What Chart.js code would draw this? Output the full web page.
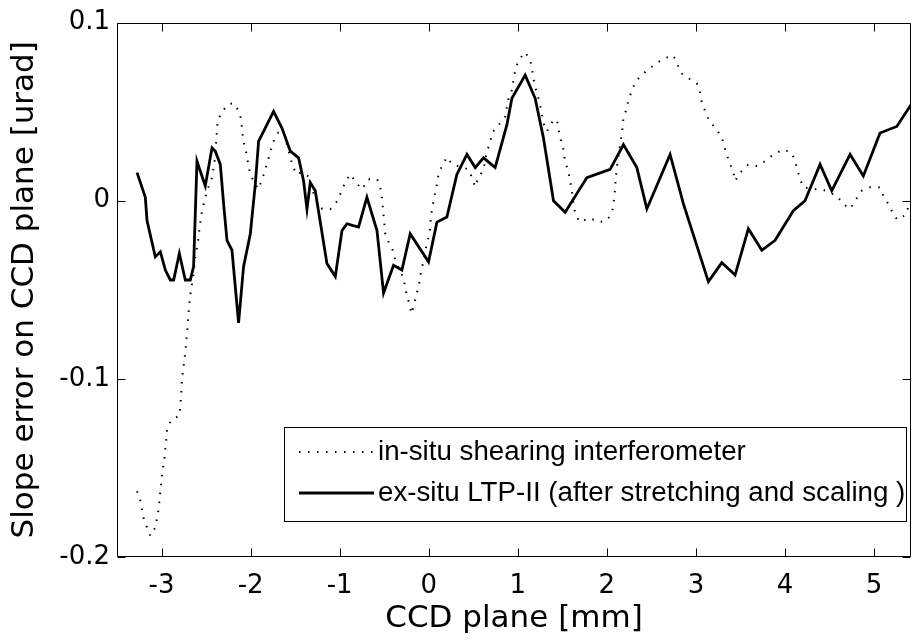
<!DOCTYPE html>
<html><head><meta charset="utf-8">
<script src="https://cdn.jsdelivr.net/npm/chart.js@4/dist/chart.umd.min.js"></script>
<style>html,body{margin:0;padding:0;background:#fff;}canvas{display:block;}</style>
</head><body>
<canvas id="c" width="912" height="641"></canvas>
<script>
const xTickValues = [-3, -2, -1, 0, 1, 2, 3, 4, 5];
const xTickLabels = ['-3', '-2', '-1', '0', '1', '2', '3', '4', '5'];
const yTickValues = [-0.2, -0.1, 0, 0.1];
const yTickLabels = ['-0.2', '-0.1', '0', '0.1'];
const xTitle = 'CCD plane [mm]';
const yTitle = 'Slope error on CCD plane [urad]';
const seriesNames = ['in-situ shearing interferometer', 'ex-situ LTP-II (after stretching and scaling )'];

const insituX = [-3.275,-3.238,-3.201,-3.163,-3.126,-3.070,-3.033,-3.013,-2.994,-2.965,
  -2.946,-2.938,-2.893,-2.797,-2.781,-2.770,-2.733,-2.707,-2.685,-2.640,
  -2.621,-2.595,-2.572,-2.545,-2.489,-2.433,-2.396,-2.385,-2.370,-2.321,
  -2.247,-2.191,-2.123,-2.104,-2.085,-2.059,-2.040,-2.003,-1.947,-1.914,
  -1.869,-1.801,-1.745,-1.689,-1.633,-1.577,-1.532,-1.487,-1.420,-1.352,
  -1.274,-1.195,-1.105,-1.027,-0.937,-0.881,-0.802,-0.746,-0.679,-0.578,
  -0.533,-0.507,-0.488,-0.451,-0.395,-0.376,-0.283,-0.264,-0.245,-0.215,
  -0.193,-0.152,-0.126,-0.103,-0.088,-0.065,-0.028,-0.002,0.017,0.022,
  0.036,0.054,0.073,0.092,0.110,0.148,0.204,0.264,0.447,0.485,
  0.522,0.559,0.615,0.653,0.690,0.709,0.765,0.859,0.896,0.934,
  0.952,0.971,1.008,1.083,1.139,1.158,1.176,1.195,1.251,1.288,
  1.327,1.401,1.439,1.457,1.476,1.506,1.521,1.543,1.569,1.588,
  1.607,1.633,1.663,1.700,1.805,1.906,2.000,2.037,2.074,2.082,
  2.093,2.099,2.112,2.149,2.168,2.186,2.224,2.242,2.281,2.318,
  2.411,2.523,2.635,2.747,2.786,2.842,2.935,3.010,3.047,3.066,
  3.103,3.140,3.215,3.291,3.316,3.347,3.384,3.421,3.440,3.496,
  3.589,3.684,3.777,3.870,3.982,4.076,4.113,4.170,4.206,4.319,
  4.413,4.581,4.655,4.731,4.787,4.862,4.955,5.067,5.104,5.160,
  5.217,5.261,5.359,5.404];
const insituY = [-0.1631,-0.1683,-0.1783,-0.1835,-0.1881,-0.1835,-0.1733,-0.1631,-0.1535,-0.1437,
  -0.1335,-0.1283,-0.1232,-0.1205,-0.1103,-0.1001,-0.0853,-0.0704,-0.0556,-0.0408,
  -0.0306,-0.0250,-0.0148,-0.0056,0.0056,0.0130,0.0250,0.0343,0.0445,0.0501,
  0.0543,0.0547,0.0497,0.0445,0.0343,0.0297,0.0241,0.0148,0.0093,0.0065,
  0.0121,0.0232,0.0332,0.0382,0.0388,0.0288,0.0204,0.0148,0.0160,0.0137,
  0.0009,-0.0046,-0.0046,-0.0002,0.0104,0.0149,0.0093,0.0065,0.0121,0.0121,
  0.0054,-0.0083,-0.0185,-0.0231,-0.0287,-0.0337,-0.0435,-0.0486,-0.0534,-0.0584,
  -0.0634,-0.0556,-0.0504,-0.0454,-0.0404,-0.0352,-0.0256,-0.0204,-0.0154,-0.0102,
  -0.0052,0.0000,0.0047,0.0093,0.0148,0.0195,0.0245,0.0204,0.0176,0.0130,
  0.0078,0.0130,0.0176,0.0278,0.0325,0.0380,0.0412,0.0473,0.0575,0.0621,
  0.0677,0.0732,0.0788,0.0834,0.0788,0.0742,0.0686,0.0640,0.0538,0.0436,
  0.0389,0.0454,0.0454,0.0408,0.0353,0.0306,0.0250,0.0204,0.0158,0.0111,
  0.0056,-0.0046,-0.0092,-0.0120,-0.0096,-0.0120,-0.0111,-0.0083,-0.0037,0.0019,
  0.0065,0.0121,0.0186,0.0315,0.0371,0.0464,0.0519,0.0566,0.0616,0.0667,
  0.0714,0.0760,0.0798,0.0816,0.0770,0.0714,0.0682,0.0659,0.0608,0.0556,
  0.0504,0.0458,0.0408,0.0358,0.0306,0.0256,0.0208,0.0158,0.0111,0.0158,
  0.0204,0.0195,0.0222,0.0260,0.0288,0.0269,0.0222,0.0121,0.0075,0.0065,
  0.0065,0.0028,-0.0018,-0.0046,0.0000,0.0056,0.0075,0.0075,0.0028,-0.0018,
  -0.0074,-0.0107,-0.0078,0.0000];

const exsituX = [-3.275,-3.182,-3.163,-3.070,-3.013,-2.957,-2.901,-2.864,-2.800,-2.733,
  -2.677,-2.640,-2.602,-2.509,-2.433,-2.396,-2.340,-2.303,-2.265,-2.209,
  -2.135,-2.079,-2.003,-1.947,-1.910,-1.854,-1.742,-1.648,-1.554,-1.461,
  -1.405,-1.367,-1.330,-1.274,-1.143,-1.049,-0.974,-0.918,-0.788,-0.694,
  -0.581,-0.507,-0.395,-0.301,-0.208,-0.002,0.092,0.204,0.316,0.429,
  0.522,0.615,0.746,0.878,0.934,1.083,1.195,1.288,1.401,1.532,
  1.776,2.037,2.186,2.337,2.449,2.710,2.860,3.140,3.291,3.440,
  3.589,3.740,3.889,4.094,4.225,4.394,4.525,4.731,4.880,5.067,
  5.255,5.426];
const exsituY = [0.0158,0.0019,-0.0111,-0.0315,-0.0287,-0.0389,-0.0445,-0.0445,-0.0296,-0.0445,
  -0.0445,-0.0370,0.0222,0.0083,0.0297,0.0278,0.0204,-0.0018,-0.0222,-0.0278,
  -0.0686,-0.0370,-0.0185,0.0093,0.0334,0.0389,0.0501,0.0408,0.0278,0.0241,
  0.0111,-0.0047,0.0102,0.0056,-0.0352,-0.0426,-0.0167,-0.0130,-0.0148,0.0019,
  -0.0167,-0.0518,-0.0362,-0.0389,-0.0185,-0.0343,-0.0120,-0.0092,0.0148,0.0260,
  0.0186,0.0241,0.0186,0.0427,0.0575,0.0705,0.0575,0.0353,0.0000,-0.0065,
  0.0130,0.0176,0.0315,0.0186,-0.0046,0.0260,-0.0018,-0.0454,-0.0348,-0.0417,
  -0.0157,-0.0278,-0.0222,-0.0056,0.0000,0.0204,0.0056,0.0260,0.0139,0.0380,
  0.0417,0.0547];

const toPoints = (xs, ys) => xs.map((v, i) => ({x: v, y: ys[i]}));

const frameTicks = {
  id: 'frameTicks',
  afterDatasetsDraw(chart) {
    const {ctx, chartArea: a, scales: {x, y}} = chart;
    ctx.save();
    ctx.strokeStyle = '#000';
    ctx.lineWidth = 1;
    const L = Math.round(a.left) + 0.5, R = Math.round(a.right) - 0.5;
    const T = Math.round(a.top) + 0.5, B = Math.round(a.bottom) - 0.5;
    ctx.beginPath();
    ctx.rect(L, T, R - L, B - T);
    xTickValues.forEach(v => {
      const px = Math.round(x.getPixelForValue(v)) + 0.5;
      ctx.moveTo(px, B); ctx.lineTo(px, B - 8);
      ctx.moveTo(px, T); ctx.lineTo(px, T + 8);
    });
    yTickValues.forEach(v => {
      const py = Math.round(y.getPixelForValue(v)) + 0.5;
      ctx.moveTo(L, py); ctx.lineTo(L + 8, py);
      ctx.moveTo(R, py); ctx.lineTo(R - 8, py);
    });
    ctx.stroke();
    ctx.restore();
  },
  afterDraw(chart) {
    const {ctx} = chart;
    const box = {l: 284.5, t: 427.5, r: 906.5, b: 521.5};
    const rows = [452, 493];
    ctx.save();
    ctx.fillStyle = '#fff';
    ctx.fillRect(box.l, box.t, box.r - box.l, box.b - box.t);
    ctx.strokeStyle = '#000';
    ctx.lineWidth = 1;
    ctx.strokeRect(box.l, box.t, box.r - box.l, box.b - box.t);
    chart.data.datasets.forEach((ds, i) => {
      ctx.save();
      ctx.strokeStyle = ds.borderColor;
      ctx.lineWidth = ds.borderWidth;
      ctx.setLineDash(ds.borderDash || []);
      ctx.beginPath();
      ctx.moveTo(299, rows[i]);
      ctx.lineTo(374, rows[i]);
      ctx.stroke();
      ctx.restore();
      ctx.fillStyle = '#000';
      ctx.font = '27.7px "Liberation Sans", Arial, sans-serif';
      ctx.textBaseline = 'middle';
      ctx.textAlign = 'left';
      ctx.fillText(ds.label, 378, rows[i]);
    });
    ctx.restore();
  }
};

new Chart(document.getElementById('c'), {
  type: 'line',
  data: {
    datasets: [
      {label: seriesNames[0], data: toPoints(insituX, insituY), borderColor: '#000', borderWidth: 2,
       borderDash: [1.5, 7.5], pointRadius: 0, fill: false, tension: 0},
      {label: seriesNames[1], data: toPoints(exsituX, exsituY), borderColor: '#000', borderWidth: 2.8,
       pointRadius: 0, fill: false, tension: 0}
    ]
  },
  options: {
    responsive: false,
    animation: false,
    devicePixelRatio: 1,
    layout: {padding: {top: 17, right: 1, left: 0, bottom: 0}},
    plugins: {legend: {display: false}, tooltip: {enabled: false}},
    scales: {
      x: {
        type: 'linear', min: -3.5, max: 5.415,
        afterBuildTicks: s => { s.ticks = xTickValues.map(v => ({value: v})); },
        afterFit: s => { s.height = 84; },
        grid: {display: false, drawTicks: false},
        border: {display: false},
        ticks: {color: '#000', font: {family: 'DejaVu Sans', size: 26}, padding: 14,
                maxRotation: 0, autoSkip: false, callback: (v, i) => xTickLabels[i]},
        title: {display: true, text: xTitle, color: '#000', font: {family: 'DejaVu Sans', size: 31},
                padding: {top: 0, bottom: 3}}
      },
      y: {
        type: 'linear', min: -0.2, max: 0.1,
        afterBuildTicks: s => { s.ticks = yTickValues.map(v => ({value: v})); },
        afterFit: s => { s.width = 117; },
        grid: {display: false, drawTicks: false},
        border: {display: false},
        ticks: {color: '#000', font: {family: 'DejaVu Sans', size: 26}, padding: 7,
                autoSkip: false, callback: (v, i) => yTickLabels[i]},
        title: {display: true, text: yTitle, color: '#000', font: {family: 'DejaVu Sans', size: 31},
                padding: {top: 6, bottom: 0}}
      }
    }
  },
  plugins: [frameTicks]
});
</script>
</body></html>
